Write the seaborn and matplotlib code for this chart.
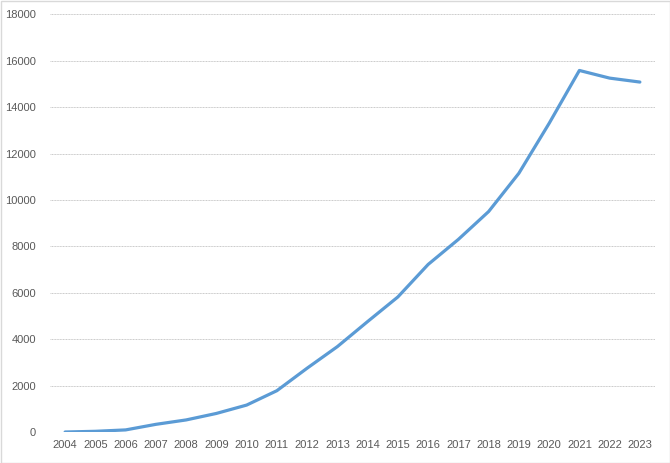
import matplotlib
matplotlib.use("Agg")
import matplotlib.pyplot as plt
import seaborn as sns
import pandas as pd
from matplotlib.patches import Rectangle

years = [str(y) for y in range(2004, 2024)]
values = [0, 30, 90, 330, 520, 800, 1160, 1780, 2750, 3680, 4760, 5820,
          7220, 8300, 9500, 11150, 13300, 15580, 15250, 15080]
yticks = list(range(0, 18001, 2000))

sns.set_theme(style="white")
plt.rcParams['font.family'] = ['Liberation Sans', 'DejaVu Sans']

df = pd.DataFrame({"year": years, "value": values})

fig = plt.figure(figsize=(6.7, 4.63), dpi=100)
ax = fig.add_axes([50/670, 31/463, 605/670, (432-14.3)/463])
sns.lineplot(data=df, x="year", y="value", ax=ax, color="#5B9BD5", linewidth=2.3, sort=False)

ax.set_xlim(-0.5, len(years) - 0.5)
ax.set_ylim(0, 18000)
ax.set_yticks(yticks)
ax.set_yticklabels([str(v) for v in yticks])
ax.set_xlabel("")
ax.set_ylabel("")
ax.grid(axis="y", color="#C8C8C8", linewidth=0.7, linestyle=(0, (1, 0.6)))
ax.set_axisbelow(True)
for s in ax.spines.values():
    s.set_visible(False)
ax.tick_params(axis="both", length=0, labelsize=8, colors="#595959", pad=6)
ax.tick_params(axis="y", pad=10)

fig.patches.append(Rectangle((0.5/670, 0.5/463), 669/670, 462/463, transform=fig.transFigure,
                             fill=False, edgecolor="#D9D9D9", linewidth=1))

fig.savefig("out.png", dpi=100)
